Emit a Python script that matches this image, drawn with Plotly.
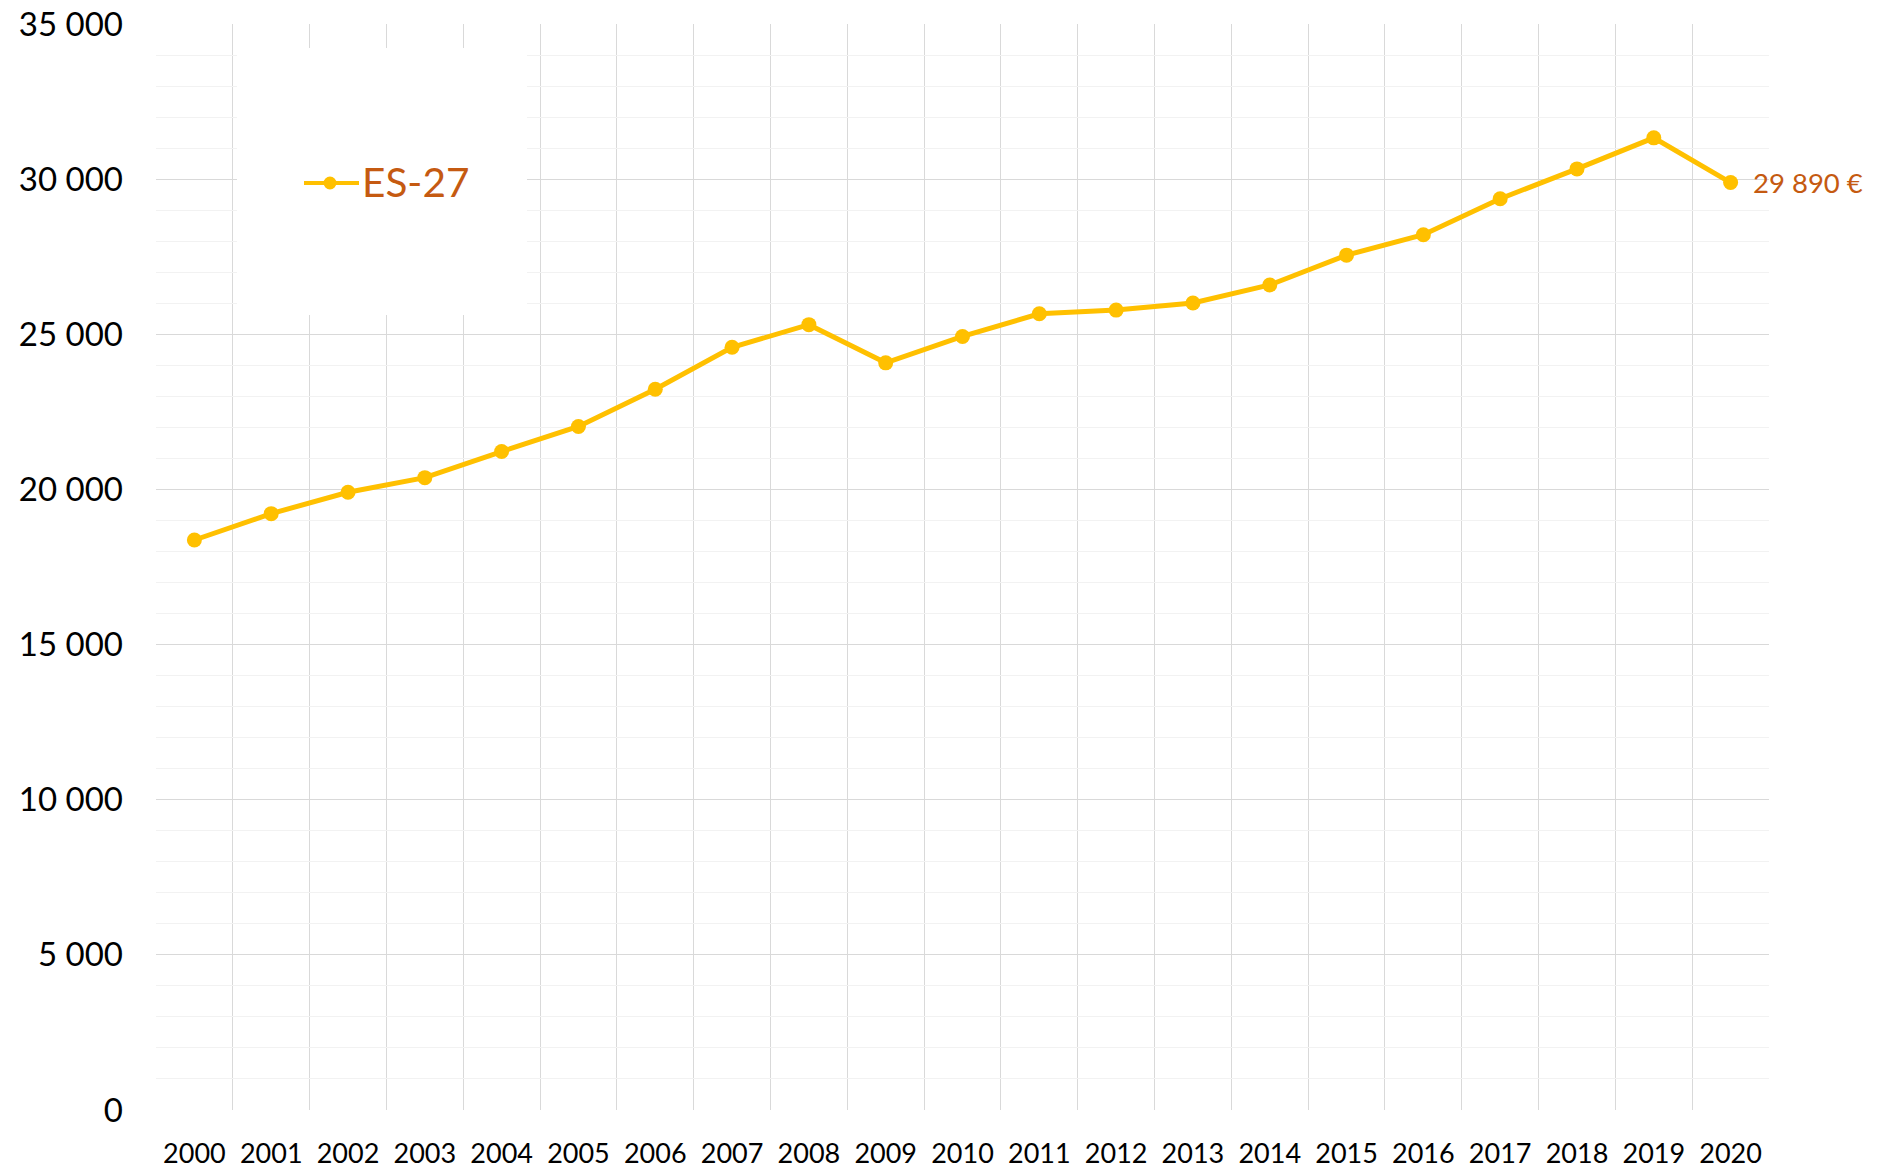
import plotly.graph_objects as go

# Series data
years = [str(y) for y in range(2000, 2021)]
es27 = [18370, 19220, 19910, 20380, 21220, 22030, 23230, 24580, 25310, 24080,
        24930, 25660, 25780, 26010, 26590, 27550, 28210, 29370, 30330, 31330, 29890]
series_name = "ES-27"
last_label = "29 890 €"

y_tickvals = [0, 5000, 10000, 15000, 20000, 25000, 30000, 35000]
y_ticktext = ["0", "5 000", "10 000", "15 000", "20 000", "25 000", "30 000", "35 000"]

LINE_COLOR = "#FFC000"
TEXT_ACCENT = "#C55A11"
FONT = "Lato"

W, H = 1878, 1169
ML, MR, MT, MB = 156, 109, 24, 59
PW, PH = W - ML - MR, H - MT - MB


def px_x(px):
    """Convert a page x pixel to paper coordinates."""
    return (px - ML) / PW


def px_y(py):
    """Convert a page y pixel to paper coordinates."""
    return 1 - (py - MT) / PH


x_idx = list(range(len(years)))

fig = go.Figure()
fig.add_trace(go.Scatter(
    x=x_idx, y=es27, name=series_name, mode="lines+markers",
    line=dict(color=LINE_COLOR, width=5),
    marker=dict(color=LINE_COLOR, size=15),
    cliponaxis=False, showlegend=False,
))

# value label after the final point
fig.add_annotation(
    x=x_idx[-1], y=es27[-1], text=last_label, showarrow=False,
    xanchor="left", yanchor="middle", xshift=20,
    font=dict(family=FONT, size=27.5, color=TEXT_ACCENT),
)

# legend: white panel, key line with dot, series name
fig.add_shape(
    type="rect", xref="paper", yref="paper",
    x0=px_x(237), x1=px_x(527), y0=px_y(315), y1=px_y(48),
    fillcolor="white", line=dict(width=0), layer="above",
)
fig.add_shape(
    type="line", xref="paper", yref="paper",
    x0=px_x(304), x1=px_x(359), y0=px_y(183), y1=px_y(183),
    line=dict(color=LINE_COLOR, width=4), layer="above",
)
fig.add_shape(
    type="circle", xref="paper", yref="paper",
    x0=px_x(323.5), x1=px_x(336.5), y0=px_y(189.5), y1=px_y(176.5),
    fillcolor=LINE_COLOR, line=dict(width=0), layer="above",
)
fig.add_annotation(
    xref="paper", yref="paper", x=px_x(360), y=px_y(181),
    text=series_name, showarrow=False, xanchor="left", yanchor="middle",
    font=dict(family=FONT, size=40.5, color=TEXT_ACCENT),
)

fig.update_layout(
    width=W, height=H,
    margin=dict(l=ML, r=MR, t=MT, b=MB, autoexpand=False),
    paper_bgcolor="white", plot_bgcolor="white",
    font=dict(family=FONT, color="black"),
    showlegend=False,
    xaxis=dict(
        range=[-0.5, len(years) - 0.5],
        tickvals=x_idx, ticktext=years,
        showgrid=False, zeroline=False, showline=False,
        ticks="", ticklabelstandoff=25, automargin=False,
        tickfont=dict(family=FONT, size=27, color="black"),
        minor=dict(
            tickvals=[i + 0.5 for i in x_idx[:-1]],
            showgrid=True, gridcolor="#D9D9D9", gridwidth=1.2, ticks="",
        ),
    ),
    yaxis=dict(
        range=[0, 35000],
        tickvals=y_tickvals, ticktext=y_ticktext,
        showgrid=True, gridcolor="#D9D9D9", gridwidth=1.2,
        zeroline=False, showline=False, ticks="",
        ticklabelstandoff=32, automargin=False,
        tickfont=dict(family=FONT, size=33, color="black"),
        minor=dict(dtick=1000, showgrid=True, gridcolor="#F2F2F2", gridwidth=1, ticks=""),
    ),
)

fig.write_html("out.html")
